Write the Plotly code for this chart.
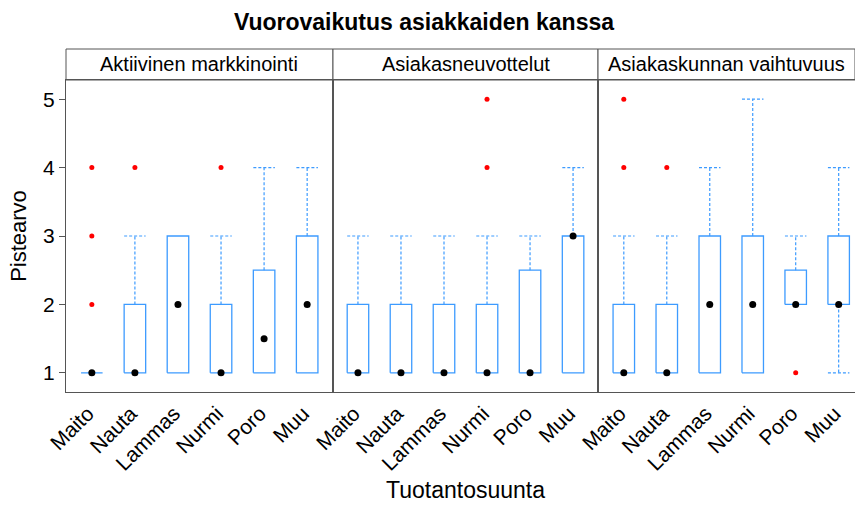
import plotly.graph_objects as go

# Categories and panels
categories = ["Maito", "Nauta", "Lammas", "Nurmi", "Poro", "Muu"]
panels = ["Aktiivinen markkinointi", "Asiakasneuvottelut", "Asiakaskunnan vaihtuvuus"]

# Box statistics per panel: lower whisker, Q1, median, Q3, upper whisker
lower_p1 = [1, 1, 1, 1, 1, 1]
q1_p1 = [1, 1, 1, 1, 1, 1]
median_p1 = [1, 1, 2, 1, 1.5, 2]
q3_p1 = [1, 2, 3, 2, 2.5, 3]
upper_p1 = [1, 3, 3, 3, 4, 4]
outliers_p1 = [[2, 3, 4], [4], [], [4], [], []]

lower_p2 = [1, 1, 1, 1, 1, 1]
q1_p2 = [1, 1, 1, 1, 1, 1]
median_p2 = [1, 1, 1, 1, 1, 3]
q3_p2 = [2, 2, 2, 2, 2.5, 3]
upper_p2 = [3, 3, 3, 3, 3, 4]
outliers_p2 = [[], [], [], [4, 5], [], []]

lower_p3 = [1, 1, 1, 1, 2, 1]
q1_p3 = [1, 1, 1, 1, 2, 2]
median_p3 = [1, 1, 2, 2, 2, 2]
q3_p3 = [2, 2, 3, 3, 2.5, 3]
upper_p3 = [3, 3, 4, 5, 3, 4]
outliers_p3 = [[4, 5], [4], [], [], [1], []]

stats = [
    (lower_p1, q1_p1, median_p1, q3_p1, upper_p1, outliers_p1),
    (lower_p2, q1_p2, median_p2, q3_p2, upper_p2, outliers_p2),
    (lower_p3, q1_p3, median_p3, q3_p3, upper_p3, outliers_p3),
]

BOX_BLUE = "#3d9bff"
FRAME = "#555555"
FONT = "Liberation Sans, Arial, sans-serif"
half_w = 0.25

fig = go.Figure()

for p, (lo, q1, med, q3, hi, outs) in enumerate(stats):
    xa = "x" if p == 0 else f"x{p + 1}"
    ya = "y" if p == 0 else f"y{p + 1}"
    bx, by, wx, wy = [], [], [], []
    mx, my, ox, oy = [], [], [], []
    for i, _ in enumerate(categories):
        c = i + 1
        # box outline
        bx += [c - half_w, c + half_w, c + half_w, c - half_w, c - half_w, None]
        by += [q1[i], q1[i], q3[i], q3[i], q1[i], None]
        # upper whisker and cap
        if hi[i] > q3[i]:
            wx += [c, c, None, c - half_w, c + half_w, None]
            wy += [q3[i], hi[i], None, hi[i], hi[i], None]
        # lower whisker and cap
        if lo[i] < q1[i]:
            wx += [c, c, None, c - half_w, c + half_w, None]
            wy += [q1[i], lo[i], None, lo[i], lo[i], None]
        mx.append(c)
        my.append(med[i])
        for v in outs[i]:
            ox.append(c)
            oy.append(v)
    fig.add_trace(go.Scatter(x=wx, y=wy, mode="lines", xaxis=xa, yaxis=ya,
                             line=dict(color=BOX_BLUE, width=1.2, dash="3px,2px"),
                             hoverinfo="skip", showlegend=False))
    fig.add_trace(go.Scatter(x=bx, y=by, mode="lines", xaxis=xa, yaxis=ya,
                             line=dict(color=BOX_BLUE, width=1.3),
                             hoverinfo="skip", showlegend=False))
    fig.add_trace(go.Scatter(x=ox, y=oy, mode="markers", xaxis=xa, yaxis=ya,
                             marker=dict(color="#ff0000", size=5),
                             showlegend=False))
    fig.add_trace(go.Scatter(x=mx, y=my, mode="markers", xaxis=xa, yaxis=ya,
                             marker=dict(color="black", size=7),
                             showlegend=False))

# Panel geometry (paper fractions of the 789 px wide plotting region)
domains = [[0.0, 0.3384], [0.3384, 0.6743], [0.6743, 1.0]]
xranges = [[0.4, 6.6], [0.42, 6.58], [0.4, 6.38]]
yrange = [0.72, 5.28]

layout = dict(
    width=855, height=505,
    margin=dict(l=66, r=0, t=80, b=113),
    paper_bgcolor="white", plot_bgcolor="white",
    font=dict(family=FONT, color="black"),
    title=dict(text="<b>Vuorovaikutus asiakkaiden kanssa</b>",
               x=424 / 855, xanchor="center", y=1 - 22 / 505, yanchor="middle",
               font=dict(size=23, family=FONT)),
)

for p in range(3):
    xk = "xaxis" if p == 0 else f"xaxis{p + 1}"
    yk = "yaxis" if p == 0 else f"yaxis{p + 1}"
    ya = "y" if p == 0 else f"y{p + 1}"
    xa = "x" if p == 0 else f"x{p + 1}"
    layout[xk] = dict(
        domain=domains[p], range=xranges[p], anchor=ya,
        tickvals=list(range(1, len(categories) + 1)), ticktext=categories,
        tickangle=-45, tickfont=dict(size=21), ticklabelshift=-4,
        ticks="", ticklen=0,
        showline=True, linecolor=FRAME, linewidth=1, mirror=True,
        showgrid=False, zeroline=False, fixedrange=True,
    )
    layout[yk] = dict(
        domain=[0, 1], range=yrange, anchor=xa,
        tickvals=[1, 2, 3, 4, 5], showticklabels=(p == 0),
        tickfont=dict(size=21), ticks="outside" if p == 0 else "",
        ticklen=6, tickcolor=FRAME,
        showline=True, linecolor=FRAME, linewidth=1, mirror=(p < 2),
        showgrid=False, zeroline=False, fixedrange=True,
    )
    if p == 0:
        layout[yk]["title"] = dict(text="Pistearvo", font=dict(size=22), standoff=10)

fig.update_layout(**layout)

# Strip headers above each panel
strip_h = 31 / 312
for p, name in enumerate(panels):
    xa = "x" if p == 0 else f"x{p + 1}"
    ya = "y" if p == 0 else f"y{p + 1}"
    fig.add_shape(type="rect", xref=f"{xa} domain", yref=f"{ya} domain",
                  x0=0, x1=1, y0=1, y1=1 + strip_h,
                  line=dict(color=FRAME, width=1), fillcolor="white", layer="below")
    fig.add_annotation(text=name, xref=f"{xa} domain", yref=f"{ya} domain",
                       x=0.5, y=1 + strip_h / 2, showarrow=False,
                       xanchor="center", yanchor="middle", font=dict(size=20))

# Shared x-axis title
fig.add_annotation(text="Tuotantosuunta", xref="paper", yref="paper",
                   x=(465 - 66) / 789, y=-(490 - 392) / 312, showarrow=False,
                   xanchor="center", yanchor="middle", font=dict(size=23))

fig.write_html("out.html")
